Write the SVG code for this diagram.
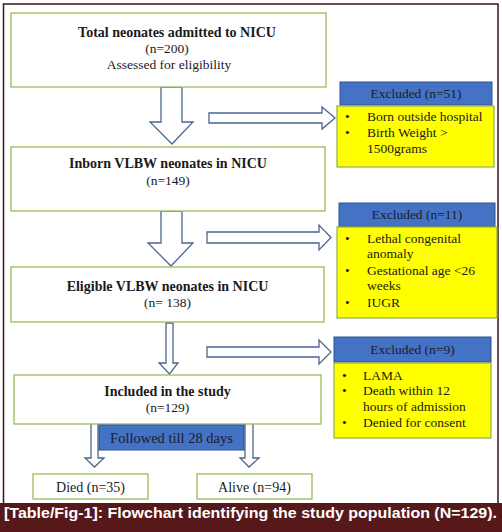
<svg xmlns="http://www.w3.org/2000/svg" width="502" height="532" viewBox="0 0 502 532">
<style>
.box{fill:#fff;stroke:#9bbb59;stroke-width:1.3}
.blue{fill:#4472c4;stroke:#2f528f;stroke-width:1}
.yel{fill:#ffff00;stroke:#8fae4f;stroke-width:1.2}
.arr{fill:#fff;stroke:#4a6690;stroke-width:1.3;stroke-linejoin:miter}
text{font-family:"Liberation Serif","Times New Roman",serif;fill:#1a1a1a}
.t{font-size:14px;font-weight:bold;text-anchor:middle}
.n{font-size:13.5px;text-anchor:middle}
.d{font-size:14px;text-anchor:middle}
.l{font-size:13.5px}
.h{font-size:13.5px;text-anchor:middle;fill:#1c1c2e}
.f{font-size:14.5px;text-anchor:middle;fill:#1c1c2e}
.cap{font-family:"Liberation Sans",Arial,sans-serif;font-size:14.5px;font-weight:bold;fill:#fff}
</style>
<rect x="0" y="0" width="502" height="532" fill="#fff"/>
<rect x="3.5" y="4" width="494.5" height="510" fill="none" stroke="#3d1212" stroke-width="1.5"/>
<rect x="0" y="503" width="502" height="29" fill="#561818"/>
<text class="cap" x="4" y="518" textLength="493" lengthAdjust="spacingAndGlyphs">[Table/Fig-1]: Flowchart identifying the study population (N=129).</text>

<g id="connectors">
<polygon class="arr" points="161,87 182,87 182,122 193,122 172,144 150,122 161,122"/>
<polygon class="arr" points="209,113 322,113 322,107 335,118 322,129 322,123 209,123"/>
<polygon class="arr" points="161,211 182,211 182,243 193,243 171,266 148,243 161,243"/>
<polygon class="arr" points="207,232 319,232 319,225 331,237.5 319,250 319,243 207,243"/>
<polygon class="arr" points="166,323 173,323 173,363 178,363 169.5,374 159,363 166,363"/>
<polygon class="arr" points="207,347 319,347 319,340 331,352 319,364 319,357 207,357"/>
<polygon class="arr" points="91,423 98,423 98,458 104,458 94.5,467 85,458 91,458"/>
<polygon class="arr" points="245,423 253,423 253,458 259,458 249,467 240,458 245,458"/>
</g>

<g id="n1">
<rect class="box" x="11" y="13" width="315" height="74"/>
<text class="t" x="177" y="37">Total neonates admitted to NICU</text>
<text class="n" x="167" y="53">(n=200)</text>
<text class="n" x="169" y="69">Assessed for eligibility</text>
</g>

<g id="n2">
<rect class="box" x="11" y="147" width="314" height="64"/>
<text class="t" x="168" y="168">Inborn VLBW neonates in NICU</text>
<text class="n" x="168" y="185">(n=149)</text>
</g>

<g id="n3">
<rect class="box" x="11" y="267" width="313" height="55"/>
<text class="t" x="167.5" y="291">Eligible VLBW neonates in NICU</text>
<text class="n" x="167.5" y="307">(n= 138)</text>
</g>

<g id="n4">
<rect class="box" x="14" y="375" width="307" height="49"/>
<text class="t" x="167.5" y="396">Included in the study</text>
<text class="n" x="167.5" y="412">(n=129)</text>
</g>

<g id="e1">
<rect class="blue" x="340" y="82" width="152" height="23"/>
<text class="h" x="416" y="98">Excluded (n=51)</text>
<rect class="yel" x="337" y="106" width="157" height="61"/>
<text class="l" x="345" y="121">•</text><text class="l" x="367" y="121">Born outside hospital</text>
<text class="l" x="345" y="137">•</text><text class="l" x="367" y="137">Birth Weight &gt;</text>
<text class="l" x="367" y="153">1500grams</text>
</g>

<g id="e2">
<rect class="blue" x="339" y="203" width="156" height="24"/>
<text class="h" x="417" y="219">Excluded (n=11)</text>
<rect class="yel" x="337" y="227" width="160" height="91"/>
<text class="l" x="345" y="243">•</text><text class="l" x="367" y="243">Lethal congenital</text>
<text class="l" x="367" y="258">anomaly</text>
<text class="l" x="345" y="275">•</text><text class="l" x="367" y="275">Gestational age &lt;26</text>
<text class="l" x="367" y="290">weeks</text>
<text class="l" x="345" y="307">•</text><text class="l" x="367" y="307">IUGR</text>
</g>

<g id="e3">
<rect class="blue" x="334" y="337" width="157" height="25"/>
<text class="h" x="412.5" y="354">Excluded (n=9)</text>
<rect class="yel" x="334" y="363" width="157" height="75"/>
<text class="l" x="342" y="380">•</text><text class="l" x="363" y="380">LAMA</text>
<text class="l" x="342" y="395">•</text><text class="l" x="363" y="395">Death within 12</text>
<text class="l" x="363" y="411">hours of admission</text>
<text class="l" x="342" y="427">•</text><text class="l" x="363" y="427">Denied for consent</text>
</g>

<g id="followed">
<rect class="blue" x="99" y="425" width="145" height="25"/>
<text class="f" x="171.5" y="443">Followed till 28 days</text>
</g>

<g id="died">
<rect class="box" x="33" y="474" width="115" height="25"/>
<text class="d" x="90.5" y="492">Died (n=35)</text>
</g>

<g id="alive">
<rect class="box" x="197" y="474" width="115" height="25"/>
<text class="d" x="254.5" y="492">Alive (n=94)</text>
</g>
</svg>
